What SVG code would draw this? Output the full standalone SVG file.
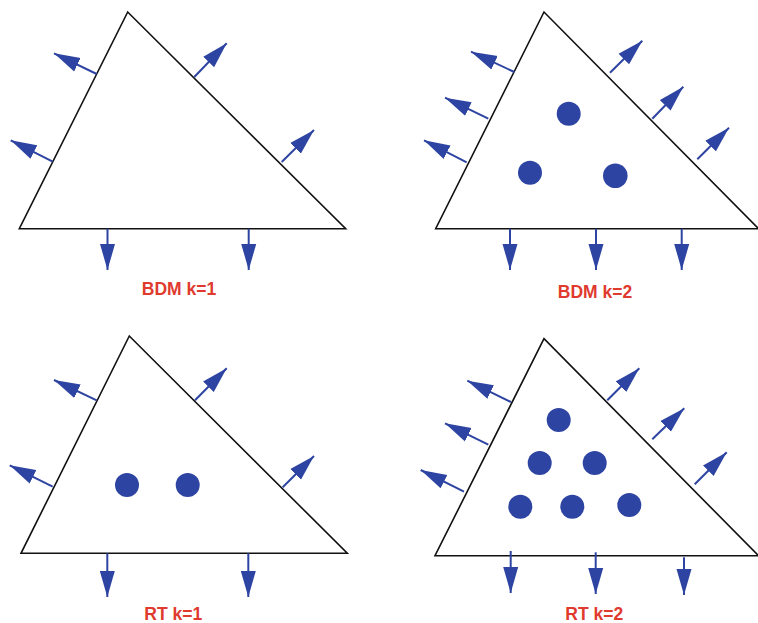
<svg xmlns="http://www.w3.org/2000/svg" width="758" height="623" viewBox="0 0 758 623">
<defs>
<marker id="ah" markerUnits="userSpaceOnUse" markerWidth="26" markerHeight="16" refX="26" refY="8" orient="auto">
<path d="M0,0.5 L26,8 L0,15.5 Z" fill="#2e44a2"/>
</marker>
<style>
.tri{fill:#fff;stroke:#111;stroke-width:1.6;stroke-linejoin:miter}
.ar{stroke:#2e44a2;stroke-width:2;fill:none;marker-end:url(#ah)}
.dot{fill:#2e44a2}
.lbl{font-family:"Liberation Sans",Arial,sans-serif;font-weight:bold;font-size:17.5px;fill:#e03a2e;text-anchor:middle}
</style>
</defs>
<rect width="758" height="623" fill="#fff"/>

<g id="bdm1">
<polygon class="tri" points="127.7,12 19.3,228.7 345.7,228.7"/>
<text class="lbl" x="179" y="295.3">BDM k=1</text>
</g>
<g id="bdm2">
<polygon class="tri" points="544,12 435.7,228.7 758.5,228.7"/>
<circle class="dot" cx="568.7" cy="113.7" r="12"/>
<circle class="dot" cx="530" cy="172.7" r="12"/>
<circle class="dot" cx="615.3" cy="175.7" r="12.3"/>
<text class="lbl" x="595" y="298.3">BDM k=2</text>
</g>
<g id="rt1">
<polygon class="tri" points="129.3,336 21,553.3 347.3,553.3"/>
<circle class="dot" cx="127" cy="485" r="12"/>
<circle class="dot" cx="187.7" cy="485" r="12"/>
<text class="lbl" x="173.3" y="620">RT k=1</text>
</g>
<g id="rt2">
<polygon class="tri" points="544,338.7 435,555.7 758.5,555.7"/>
<circle class="dot" cx="558.7" cy="420" r="12"/>
<circle class="dot" cx="539.7" cy="463" r="12"/>
<circle class="dot" cx="594.7" cy="463" r="12"/>
<circle class="dot" cx="520.3" cy="506.7" r="12"/>
<circle class="dot" cx="572.3" cy="506.7" r="12"/>
<circle class="dot" cx="629.3" cy="505" r="12"/>
<text class="lbl" x="594.3" y="619.5">RT k=2</text>
</g>

<g id="connectors">
<line class="ar" x1="96.7" y1="74" x2="54" y2="53.3"/>
<line class="ar" x1="52.7" y1="161.7" x2="10.7" y2="140.3"/>
<line class="ar" x1="194.3" y1="77" x2="226.7" y2="43.3"/>
<line class="ar" x1="281.7" y1="162" x2="314" y2="130"/>
<line class="ar" x1="107.5" y1="228.7" x2="107.5" y2="270"/>
<line class="ar" x1="248.7" y1="228.7" x2="248.7" y2="270"/>
<line class="ar" x1="514.3" y1="72" x2="471" y2="51.7"/>
<line class="ar" x1="488.3" y1="118.7" x2="445" y2="97.7"/>
<line class="ar" x1="466.7" y1="162.3" x2="424" y2="140.3"/>
<line class="ar" x1="610" y1="72.7" x2="642.3" y2="40.7"/>
<line class="ar" x1="652.3" y1="118.7" x2="683.3" y2="86.7"/>
<line class="ar" x1="697.3" y1="159.3" x2="729" y2="127.7"/>
<line class="ar" x1="510" y1="228.7" x2="510" y2="270"/>
<line class="ar" x1="596" y1="228.7" x2="596" y2="270"/>
<line class="ar" x1="681.7" y1="228.7" x2="681.7" y2="270"/>
<line class="ar" x1="96.7" y1="400.3" x2="54" y2="380"/>
<line class="ar" x1="52.7" y1="486.7" x2="9.7" y2="465.3"/>
<line class="ar" x1="195" y1="400.3" x2="226.7" y2="368.3"/>
<line class="ar" x1="282.7" y1="487.3" x2="314" y2="456"/>
<line class="ar" x1="107.3" y1="553.3" x2="107.3" y2="597"/>
<line class="ar" x1="248.3" y1="553.3" x2="248.3" y2="597"/>
<line class="ar" x1="511" y1="402" x2="467.3" y2="380.7"/>
<line class="ar" x1="488.3" y1="444.7" x2="445" y2="423.3"/>
<line class="ar" x1="464" y1="491.7" x2="420.7" y2="470"/>
<line class="ar" x1="607.3" y1="400.3" x2="639.3" y2="368.3"/>
<line class="ar" x1="652.3" y1="439.3" x2="684.3" y2="408.3"/>
<line class="ar" x1="694.7" y1="484.3" x2="726.7" y2="452.3"/>
<line class="ar" x1="510.7" y1="551" x2="510.7" y2="593"/>
<line class="ar" x1="595.7" y1="552.3" x2="595.7" y2="594"/>
<line class="ar" x1="684" y1="557.3" x2="684" y2="595"/>
</g>
</svg>
